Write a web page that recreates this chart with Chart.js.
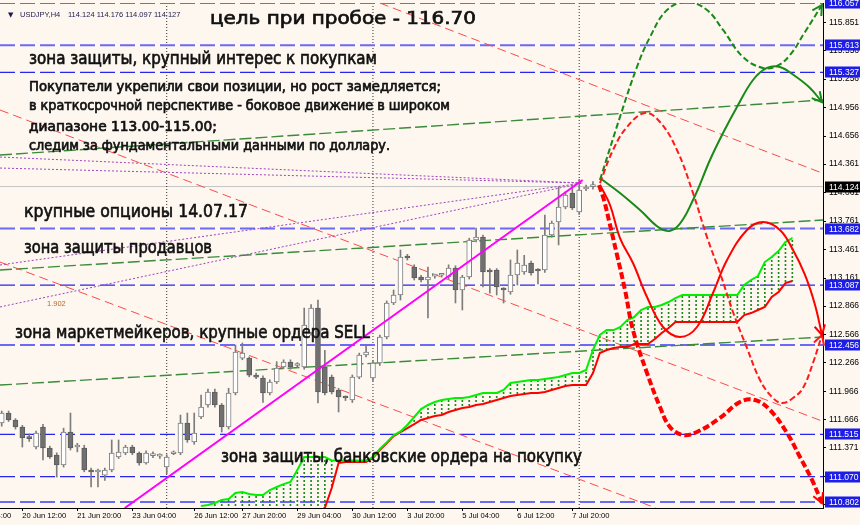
<!DOCTYPE html>
<html>
<head>
<meta charset="utf-8">
<script src="https://cdn.jsdelivr.net/npm/chart.js@4.4.1/dist/chart.umd.min.js"></script>
<style>
  html, body { margin: 0; padding: 0; background: #fdf7f0; }
  #chart { display: block; }
</style>
</head>
<body>
<canvas id="chart" width="860" height="525"></canvas>
<script>
const bgColor = '#fdf7f0';

// USDJPY H4 candles, bar 0 = 19 Jun 20:00 ... bar 86 = 10 Jul 08:00
const opens = [
  111.634, 111.739, 111.666, 111.592, 111.476, 111.381, 111.592, 111.371, 111.297, 111.192,
  111.539, 111.381, 111.371, 111.139, 111.118, 111.086, 111.139, 111.276, 111.318, 111.381,
  111.318, 111.213, 111.290, 111.285, 111.171, 111.310, 111.318, 111.634, 111.434, 111.697,
  111.824, 111.961, 111.824, 111.592, 111.950, 112.318, 112.318, 112.139, 112.108, 111.950,
  112.066, 112.224, 112.276, 112.240, 112.224, 112.582, 112.845, 112.224, 112.118, 111.982,
  111.900, 111.876, 112.118, 112.350, 112.108, 112.266, 112.540, 112.898, 112.982, 113.393,
  113.277, 113.172, 113.140, 113.180, 113.190, 113.172, 113.266, 113.035, 113.172, 113.561,
  113.593, 113.245, 113.245, 113.040, 113.014, 113.193, 113.224, 113.319, 113.240, 113.245,
  113.614, 113.751, 113.909, 114.056, 113.856, 114.098, 114.124,
];
const highs = [
  111.760, 111.760, 111.680, 111.610, 111.520, 111.550, 111.620, 111.390, 111.320, 111.580,
  111.739, 111.420, 111.400, 111.160, 111.150, 111.160, 111.455, 111.455, 111.400, 111.400,
  111.330, 111.340, 111.330, 111.310, 111.300, 111.340, 111.718, 111.739, 111.739, 111.929,
  111.990, 111.990, 111.840, 112.000, 112.455, 112.477, 112.330, 112.160, 112.130, 112.090,
  112.280, 112.300, 112.300, 112.270, 112.845, 112.880, 112.929, 112.400, 112.140, 112.000,
  111.920, 112.140, 112.370, 112.450, 112.290, 112.560, 112.920, 113.035, 113.456, 113.410,
  113.300, 113.190, 113.277, 113.200, 113.210, 113.300, 113.290, 113.190, 113.580, 113.688,
  113.614, 113.260, 113.260, 113.060, 113.351, 113.456, 113.400, 113.340, 113.260, 113.824,
  113.760, 114.119, 114.070, 114.140, 114.200, 114.140, 114.176,
];
const lows = [
  111.600, 111.650, 111.570, 111.381, 111.440, 111.360, 111.244, 111.260, 111.065, 111.170,
  111.350, 111.330, 111.120, 110.960, 110.960, 111.030, 111.120, 111.260, 111.300, 111.300,
  111.190, 111.200, 111.270, 111.260, 111.100, 111.300, 111.300, 111.430, 111.410, 111.680,
  111.800, 111.800, 111.539, 111.570, 111.930, 112.300, 112.120, 112.100, 111.850, 111.930,
  112.050, 112.210, 112.200, 112.220, 112.200, 112.560, 111.845, 111.930, 111.940, 111.750,
  111.870, 111.850, 112.100, 112.330, 112.080, 112.240, 112.520, 112.880, 112.929, 113.350,
  113.140, 113.120, 112.740, 113.160, 113.170, 113.150, 112.898, 112.824, 113.150, 113.540,
  113.066, 113.000, 112.982, 112.898, 112.990, 113.087, 113.200, 113.190, 113.100, 113.220,
  113.590, 113.509, 113.890, 113.880, 113.830, 114.080, 114.097,
];
const closes = [
  111.739, 111.666, 111.592, 111.476, 111.470, 111.529, 111.371, 111.276, 111.192, 111.539,
  111.371, 111.390, 111.139, 111.118, 111.125, 111.139, 111.318, 111.329, 111.381, 111.318,
  111.213, 111.318, 111.300, 111.290, 111.276, 111.320, 111.634, 111.455, 111.529, 111.803,
  111.961, 111.824, 111.592, 111.950, 112.382, 112.371, 112.139, 112.118, 111.950, 112.066,
  112.213, 112.276, 112.224, 112.250, 112.666, 112.845, 111.961, 111.950, 111.961, 111.908,
  111.897, 112.118, 112.350, 112.382, 112.266, 112.540, 112.898, 112.982, 113.382, 113.372,
  113.161, 113.140, 113.172, 113.185, 113.195, 113.266, 113.035, 113.172, 113.561, 113.593,
  113.224, 113.224, 113.066, 113.035, 113.193, 113.319, 113.298, 113.214, 113.235, 113.614,
  113.740, 113.909, 114.035, 113.898, 114.088, 114.119, 114.127,
];

// time axis
const xTickBars = [-5, 3, 11, 19, 28, 35, 43, 51, 59, 67, 75, 83];
const xTickLabels = ['19 Jun 04:00', '20 Jun 12:00', '21 Jun 20:00', '23 Jun 04:00', '26 Jun 12:00',
  '27 Jun 20:00', '29 Jun 04:00', '30 Jun 12:00', '3 Jul 20:00', '5 Jul 04:00', '6 Jul 12:00', '7 Jul 20:00'];
const separatorBars = [24, 54, 84];

// price axis
const yTickValues = [115.851, 115.556, 115.256, 114.956, 114.656, 114.361, 114.061, 113.761, 113.461,
  113.161, 112.866, 112.566, 112.266, 111.966, 111.666, 111.371, 111.071, 110.771];
const levelsLight = [116.057, 115.613, 113.682, 112.456, 110.802];
const levelsDark = [115.327, 113.087, 111.515, 111.070];
const lastPrice = 114.124;

// ichimoku cloud, bars 29..115
const kumoFirstBar = 29;
const spanA = [
  110.760, 110.771, 110.792, 110.823, 110.834, 110.897, 110.907, 110.886, 110.876, 110.876,
  110.928, 110.960, 110.991, 111.013, 111.139, 111.276, 111.276, 111.276, 111.276, 111.240,
  111.240, 111.240, 111.240, 111.240, 111.240, 111.275, 111.360, 111.430, 111.505, 111.545,
  111.613, 111.697, 111.781, 111.824, 111.855, 111.876, 111.887, 111.897, 111.897, 111.908,
  111.929, 111.950, 111.950, 111.950, 111.982, 112.055, 112.066, 112.076, 112.087, 112.087,
  112.097, 112.108, 112.118, 112.139, 112.161, 112.161, 112.192, 112.403, 112.561, 112.613,
  112.613, 112.645, 112.719, 112.750, 112.824, 112.856, 112.856, 112.877, 112.908, 112.950,
  112.982, 112.982, 112.982, 112.982, 112.982, 112.982, 112.982, 112.982, 112.982, 113.087,
  113.140, 113.182, 113.329, 113.382, 113.445, 113.540, 113.582,
];
const spanB = [
  110.700, 110.700, 110.700, 110.700, 110.700, 110.700, 110.700, 110.700, 110.700, 110.700,
  110.700, 110.700, 110.700, 110.700, 110.700, 110.700, 110.700, 110.700, 110.739, 110.950,
  111.213, 111.223, 111.223, 111.223, 111.223, 111.265, 111.350, 111.420, 111.497, 111.539,
  111.581, 111.623, 111.666, 111.687, 111.708, 111.718, 111.750, 111.771, 111.792, 111.803,
  111.824, 111.834, 111.855, 111.876, 111.897, 111.918, 111.929, 111.940, 111.950, 111.950,
  111.961, 111.982, 112.003, 112.024, 112.034, 112.034, 112.034, 112.161, 112.371, 112.403,
  112.424, 112.434, 112.434, 112.466, 112.466, 112.466, 112.519, 112.582, 112.634, 112.698,
  112.698, 112.698, 112.698, 112.698, 112.698, 112.698, 112.698, 112.698, 112.698, 112.771,
  112.792, 112.824, 112.856, 112.961, 113.014, 113.108, 113.129,
];

// drawn lines: [bar, price] pairs
const trendLine = [[17.9, 110.739], [84.5, 114.193]];
const fanLines = [
  [[-0.25, 114.435], [84.5, 114.161]],
  [[-0.25, 114.319], [84.5, 114.161]],
  [[-0.25, 113.298], [84.5, 114.161]],
  [[-0.25, 112.856], [84.5, 114.161]],
];
const channelLines = [
  [[55.0, 116.057], [119.31, 114.267]],
  [[-0.25, 114.930], [119.31, 111.655]],
  [[-0.25, 113.329], [95.17, 110.739]],
];
const greenLines = [
  [[-0.25, 114.456], [119.46, 115.036]],
  [[-0.25, 113.245], [119.46, 113.772]],
  [[-0.25, 112.034], [119.46, 112.540]],
];

// scenario curves
const projGreenDash = [[87.02, 114.193], [89.93, 114.857], [92.4, 115.383], [94.3, 115.699], [96.77, 115.983],
  [99.68, 116.068], [102.58, 115.983], [104.92, 115.773], [107.82, 115.488], [110.73, 115.373],
  [112.77, 115.394], [114.66, 115.509], [116.84, 115.752], [119.31, 116.036]];
const projGreenSolid = [[87.02, 114.214], [89.93, 114.056], [92.84, 113.877], [96.19, 113.667], [98.22, 113.698],
  [100.55, 113.982], [103.02, 114.404], [104.92, 114.688], [106.95, 114.962], [109.28, 115.246],
  [111.31, 115.373], [113.2, 115.383], [115.39, 115.288], [117.57, 115.162], [119.31, 115.014]];
const projRedDash = [[87.02, 114.161], [88.92, 114.509], [90.95, 114.751], [93.57, 114.899], [95.75, 114.804],
  [98.22, 114.509], [100.55, 114.056], [102.58, 113.593], [104.48, 113.214], [106.37, 112.803],
  [108.4, 112.424], [110.3, 112.087], [112.04, 111.908], [113.49, 111.845], [115.1, 111.897],
  [116.55, 112.003], [118.0, 112.266], [119.31, 112.561]];
const projRedSolid = [[87.02, 114.140], [88.48, 113.930], [89.93, 113.582], [91.82, 113.319], [93.86, 112.961],
  [96.19, 112.645], [98.66, 112.540], [101.13, 112.645], [103.46, 113.003], [105.5, 113.351],
  [108.4, 113.667], [110.73, 113.751], [113.2, 113.667], [115.1, 113.456], [116.84, 113.193],
  [118.3, 112.877], [119.31, 112.561]];
const projRedThick = [[86.88, 114.140], [87.6, 113.982], [88.48, 113.719], [89.5, 113.403], [90.66, 113.035],
  [91.82, 112.613], [93.86, 112.161], [95.75, 111.803], [97.2, 111.592], [99.1, 111.508],
  [101.13, 111.539], [104.48, 111.687], [107.38, 111.855], [109.57, 111.876], [111.75, 111.771],
  [114.22, 111.529], [116.11, 111.276], [117.86, 111.034], [119.31, 110.792]];

// text notes (pixel layout)
const notes = [
  { text: 'цель при пробое - 116.70', left: 210, base: 24, width: 266, size: 18 },
  { text: 'зона защиты, крупный интерес к покупкам', left: 29, base: 64, width: 348, size: 18 },
  { text: 'Покупатели укрепили свои позиции, но рост замедляется;', left: 29, base: 91, width: 412, size: 13.5 },
  { text: 'в краткосрочной перспективе - боковое движение в широком', left: 29, base: 110, width: 421, size: 13.5 },
  { text: 'диапазоне 113.00-115.00;', left: 29, base: 131, width: 188, size: 13.5 },
  { text: 'следим за фундаментальными данными по доллару.', left: 29, base: 150, width: 361, size: 13.5 },
  { text: 'крупные опционы 14.07.17', left: 24, base: 217, width: 224, size: 18 },
  { text: 'зона защиты продавцов', left: 24, base: 253, width: 188, size: 18 },
  { text: 'зона маркетмейкеров, крупные ордера SELL', left: 15, base: 338, width: 355, size: 18 },
  { text: 'зона защиты, банковские ордера на покупку', left: 221, base: 462, width: 361, size: 18 },
];

const xMin = -0.25;
const xMax = 119.46;
const yMin = 110.739;
const yMax = 116.057;

const canvas = document.getElementById('chart');
const hatchPattern = (() => {
  const c = document.createElement('canvas');
  c.width = 1;
  c.height = 4;
  const g = c.getContext('2d');
  g.fillStyle = '#1f8a1f';
  g.fillRect(0, 0, 1, 2);
  return canvas.getContext('2d').createPattern(c, 'repeat');
})();

const pts = (pairs) => pairs.map(([x, y]) => ({ x, y }));
function lineDs(pairs, color, width, dash, extra) {
  return {
    type: 'line',
    data: pts(pairs),
    borderColor: color,
    borderWidth: width,
    borderDash: dash || [],
    pointRadius: 0,
    tension: 0,
    fill: false,
    ...extra,
  };
}

const datasets = [];
// bottom to top
datasets.push(lineDs([[xMin, lastPrice], [xMax, lastPrice]], '#c4c4c4', 1));
separatorBars.forEach((b) => datasets.push(lineDs([[b, yMin], [b, yMax]], '#303030', 1, [1, 2])));
levelsDark.forEach((v) => datasets.push(lineDs([[xMin, v], [xMax, v]], '#2626ee', 1.3, [15, 5])));
levelsLight.forEach((v) => datasets.push(lineDs([[xMin, v], [xMax, v]], '#6a6af4', 2, [15, 5])));
greenLines.forEach((l) => datasets.push(lineDs(l, '#3a8c3a', 1.4, [12, 4])));
channelLines.forEach((l) => datasets.push(lineDs(l, '#ff4a4a', 1, [9, 5])));
fanLines.forEach((l) => datasets.push(lineDs(l, '#a044c0', 1, [2, 2])));

const hatch = [];
spanA.forEach((a, k) => {
  const b = spanB[k];
  if (a > b) hatch.push({ x: kumoFirstBar + k, y: [b, a] });
});
datasets.push({
  type: 'bar', data: hatch, backgroundColor: hatchPattern, borderWidth: 0,
  barThickness: 1, grouped: false,
});
datasets.push(lineDs(spanB.map((v, k) => [kumoFirstBar + k, v]), '#ff0000', 2));
datasets.push(lineDs(spanA.map((v, k) => [kumoFirstBar + k, v]), '#00f000', 2));

datasets.push({
  type: 'bar',
  data: opens.map((o, i) => ({ x: i, y: [lows[i], highs[i]] })),
  backgroundColor: '#7c7c7c', borderWidth: 0, barThickness: 1, grouped: false,
});
datasets.push({
  type: 'bar',
  data: opens.map((o, i) => ({ x: i, y: [Math.min(o, closes[i]), Math.max(o, closes[i])] })),
  backgroundColor: opens.map((o, i) => (closes[i] >= o ? '#ffffff' : '#707070')),
  borderColor: opens.map((o, i) => (closes[i] >= o ? '#7c7c7c' : '#5c5c5c')),
  borderWidth: 1, borderSkipped: false, barThickness: 5, minBarLength: 2, grouped: false,
});
datasets.push(lineDs(trendLine, '#ff00ff', 2));

datasets.push(lineDs(projGreenDash, '#188a18', 2, [6, 3], { tension: 0.4, arrow: true }));
datasets.push(lineDs(projGreenSolid, '#188a18', 2, [], { tension: 0.4, arrow: true }));
datasets.push(lineDs(projRedDash, '#ff1a1a', 2, [6, 3], { tension: 0.4, arrow: true }));
datasets.push(lineDs(projRedSolid, '#ff0000', 2, [], { tension: 0.4, arrow: true }));
datasets.push(lineDs(projRedThick, '#ff0000', 4, [7, 3], { tension: 0.4, arrow: true }));

datasets.forEach((d, i) => { d.order = datasets.length - i; });

function drawArrow(ctx, meta, color) {
  const els = meta.data;
  const p = els[els.length - 1];
  const q = els[els.length - 2];
  const fx = p.cp1x !== undefined && p.cp1x !== p.x ? p.cp1x : q.x;
  const fy = p.cp1y !== undefined && p.cp1x !== p.x ? p.cp1y : q.y;
  const ang = Math.atan2(p.y - fy, p.x - fx);
  const len = 11;
  ctx.save();
  ctx.strokeStyle = color;
  ctx.lineWidth = 2;
  ctx.setLineDash([]);
  ctx.beginPath();
  ctx.moveTo(p.x - len * Math.cos(ang - 0.5), p.y - len * Math.sin(ang - 0.5));
  ctx.lineTo(p.x, p.y);
  ctx.lineTo(p.x - len * Math.cos(ang + 0.5), p.y - len * Math.sin(ang + 0.5));
  ctx.stroke();
  ctx.restore();
}

function drawNote(ctx, n) {
  ctx.save();
  ctx.font = `${n.size}px "DejaVu Sans"`;
  const w = ctx.measureText(n.text).width;
  ctx.translate(n.left, n.base);
  ctx.scale(n.width / w, 1);
  ctx.fillStyle = '#111';
  ctx.strokeStyle = '#111';
  ctx.lineWidth = 0.7;
  ctx.textBaseline = 'alphabetic';
  ctx.fillText(n.text, 0, 0);
  ctx.strokeText(n.text, 0, 0);
  ctx.restore();
}

function priceBox(ctx, y, value, fill) {
  ctx.fillStyle = fill;
  ctx.fillRect(825, Math.round(y) - 5.5, 35, 11);
  ctx.fillStyle = '#fff';
  ctx.font = '8.5px "Liberation Sans"';
  ctx.textBaseline = 'middle';
  ctx.textAlign = 'left';
  ctx.fillText(value.toFixed(3), 829, Math.round(y) + 0.5);
}

const decor = {
  id: 'decor',
  beforeDraw(chart) {
    const { ctx, width, height } = chart;
    ctx.save();
    ctx.fillStyle = bgColor;
    ctx.fillRect(0, 0, width, height);
    ctx.restore();
  },
  afterDatasetsDraw(chart) {
    const { ctx } = chart;
    chart.data.datasets.forEach((ds, i) => {
      if (ds.arrow) drawArrow(ctx, chart.getDatasetMeta(i), ds.borderColor);
    });
    notes.forEach((n) => drawNote(ctx, n));

    ctx.save();
    ctx.fillStyle = '#1c1c4c';
    ctx.font = '7px "DejaVu Sans"';
    ctx.fillText('▼', 8, 17);
    ctx.font = '7.5px "Liberation Sans"';
    ctx.fillText('USDJPY,H4', 20, 17);
    ctx.fillText(`${opens[86].toFixed(3)} ${highs[86].toFixed(3)} ${lows[86].toFixed(3)} ${closes[86].toFixed(3)}`, 68, 17);
    ctx.fillStyle = '#b8692c';
    ctx.fillText('1.902', 47, 306);
    ctx.restore();
  },
  afterDraw(chart) {
    const { ctx } = chart;
    const ys = chart.scales.y;
    ctx.save();
    levelsLight.concat(levelsDark).forEach((v) => priceBox(ctx, ys.getPixelForValue(v), v, '#1d1de6'));
    priceBox(ctx, ys.getPixelForValue(lastPrice), lastPrice, '#000000');
    ctx.restore();
  },
};

new Chart(canvas, {
  type: 'line',
  data: { datasets },
  options: {
    responsive: false,
    animation: false,
    events: [],
    layout: { padding: { top: 3, left: 0, right: 0, bottom: 0 } },
    plugins: { legend: { display: false }, tooltip: { enabled: false } },
    scales: {
      x: {
        type: 'linear',
        min: xMin,
        max: xMax,
        offset: false,
        grid: { drawOnChartArea: false, offset: false, color: '#000', tickLength: 3 },
        border: { color: '#000' },
        ticks: {
          autoSkip: false,
          maxRotation: 0,
          minRotation: 0,
          align: 'start',
          padding: 0,
          color: '#000',
          font: { family: 'Liberation Sans', size: 7.6 },
          callback: (v, i) => xTickLabels[i],
        },
        afterBuildTicks: (s) => { s.ticks = xTickBars.map((v) => ({ value: v })); },
        afterFit: (s) => { s.height = 17; s.paddingLeft = 0; s.paddingRight = 0; },
      },
      y: {
        type: 'linear',
        position: 'right',
        min: yMin,
        max: yMax,
        grid: { drawOnChartArea: false, color: '#000', tickLength: 3 },
        border: { color: '#000' },
        ticks: {
          padding: 3,
          color: '#000',
          font: { family: 'Liberation Sans', size: 8.5 },
          callback: (v) => Number(v).toFixed(3),
        },
        afterBuildTicks: (s) => { s.ticks = yTickValues.map((v) => ({ value: v })); },
        afterFit: (s) => { s.width = 37; s.paddingTop = 0; s.paddingBottom = 0; },
      },
    },
  },
  plugins: [decor],
});
</script>
</body>
</html>
